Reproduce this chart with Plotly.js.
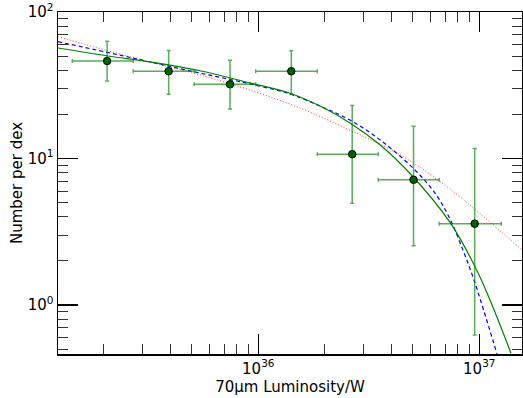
<!DOCTYPE html>
<html>
<head>
<meta charset="utf-8">
<script src="https://cdn.plot.ly/plotly-3.0.1.min.js"></script>
<style>html,body{margin:0;padding:0;background:#fff;}#chart{width:523px;height:398px;}</style>
</head>
<body>
<div id="chart"></div>
<script>
// Binned data points (luminosity in W, number per dex)
const pointLum   = [2.07e35, 3.93e35, 7.45e35, 1.41e36, 2.66e36, 5.04e36, 9.53e36];
const pointN     = [46.3, 39.4, 32.1, 39.4, 10.7, 7.16, 3.59];
const pointNHigh = [63.2, 54.7, 46.8, 54.4, 23.0, 16.6, 11.7];
const pointNLow  = [33.8, 27.5, 21.8, 27.5, 4.95, 2.54, 0.624];
const binLow     = [1.44e35, 2.72e35, 5.13e35, 9.73e35, 1.85e36, 3.49e36, 6.59e36];
const binHigh    = [2.72e35, 5.13e35, 9.73e35, 1.85e36, 3.49e36, 6.59e36, 1.257e37];

// Fit curves
const greenLum = [1.241e35, 2.089e35, 3.236e35, 5.448e35, 9.17e35, 1.391e36, 1.902e36, 2.599e36, 3.553e36, 5.012e36, 7.37e36, 9.56e36, 1.118e37, 1.391e37];
const greenN   = [56.8, 50.1, 45.6, 39.7, 32.8, 27.9, 22.8, 17.5, 12.4, 7.51, 3.66, 1.83, 1.08, 0.468];

const blueLum = [1.241e35, 2.089e35, 3.236e35, 5.448e35, 9.17e35, 1.391e36, 1.902e36, 2.599e36, 3.553e36, 5.012e36, 6.302e36, 7.37e36, 8.44e36, 9.366e36, 1.039e37, 1.203e37];
const blueN   = [62.7, 52.9, 45.6, 38.3, 32.3, 27.6, 22.8, 18.3, 13.4, 8.61, 5.81, 3.86, 2.37, 1.55, 0.954, 0.463];

const redLum = [1.241e35, 2.089e35, 3.236e35, 5.448e35, 9.17e35, 1.545e36, 2.599e36, 4.378e36, 7.37e36, 1.561e37];
const redN   = [67.8, 54.4, 45.6, 37.2, 29.3, 22.1, 15.6, 10.6, 6.19, 2.37];

const xTickVals = [1e36, 1e37];
const xTickText = ['10<sup>36</sup>', '10<sup>37</sup>'];
const yTickVals = [1, 10, 100];
const yTickText = ['10<sup>0</sup>', '10<sup>1</sup>', '10<sup>2</sup>'];

const xMinor = [];
[1e35, 1e36].forEach(d => { for (let k = 2; k <= 9; k++) xMinor.push(k * d); });
const yMinor = [];
[0.1, 1, 10].forEach(d => { for (let k = 2; k <= 9; k++) yMinor.push(k * d); });

const errColor = 'rgba(0,128,0,0.65)';

const traces = [
  {x: redLum, y: redN, mode: 'lines', line: {color: '#ff3030', width: 1, dash: '1px,2px', shape: 'spline'}, hoverinfo: 'skip'},
  {x: blueLum, y: blueN, mode: 'lines', line: {color: '#0000ff', width: 1.2, dash: '4px,3px', shape: 'spline'}, hoverinfo: 'skip'},
  {x: greenLum, y: greenN, mode: 'lines', line: {color: '#008000', width: 1.2, shape: 'spline'}, hoverinfo: 'skip'},
  {
    x: pointLum, y: pointN, mode: 'markers',
    marker: {size: 7.5, color: '#006400', line: {color: '#000', width: 1}},
    error_y: {type: 'data', symmetric: false,
      array: pointN.map((v, i) => pointNHigh[i] - v),
      arrayminus: pointN.map((v, i) => v - pointNLow[i]),
      color: errColor, thickness: 1.5, width: 2},
    error_x: {type: 'data', symmetric: false,
      array: pointLum.map((v, i) => binHigh[i] - v),
      arrayminus: pointLum.map((v, i) => v - binLow[i]),
      color: errColor, thickness: 1.5, width: 2}
  }
];

const font = {family: 'DejaVu Sans', size: 15, color: '#000'};

const layout = {
  width: 523, height: 398,
  margin: {l: 58, r: 1, t: 12, b: 44},
  paper_bgcolor: '#fff', plot_bgcolor: '#fff',
  showlegend: false,
  font: font,
  xaxis: {
    type: 'log', range: [35.0937, 37.1932],
    tickmode: 'array', tickvals: xTickVals, ticktext: xTickText,
    ticks: 'inside', ticklen: 20, tickwidth: 1.2, tickcolor: '#000',
    minor: {tickmode: 'array', tickvals: xMinor, ticks: 'inside', ticklen: 10, tickwidth: 1, tickcolor: '#333'},
    showline: true, linecolor: '#000', linewidth: 1.5, mirror: 'ticks',
    showgrid: false, zeroline: false,
    tickfont: {family: 'DejaVu Sans', size: 15},
    title: {text: '70µm Luminosity/W', font: {family: 'DejaVu Sans', size: 15}, standoff: 4}
  },
  yaxis: {
    type: 'log', range: [-0.3345, 2],
    tickmode: 'array', tickvals: yTickVals, ticktext: yTickText,
    ticks: 'inside', ticklen: 20, tickwidth: 1.2, tickcolor: '#000',
    minor: {tickmode: 'array', tickvals: yMinor, ticks: 'inside', ticklen: 10, tickwidth: 1, tickcolor: '#333'},
    showline: true, linecolor: '#000', linewidth: 1.5, mirror: 'ticks',
    showgrid: false, zeroline: false,
    tickfont: {family: 'DejaVu Sans', size: 15},
    title: {text: 'Number per dex', font: {family: 'DejaVu Sans', size: 15}, standoff: 1}
  }
};

Plotly.newPlot('chart', traces, layout, {displayModeBar: false, staticPlot: true});
</script>
</body>
</html>
